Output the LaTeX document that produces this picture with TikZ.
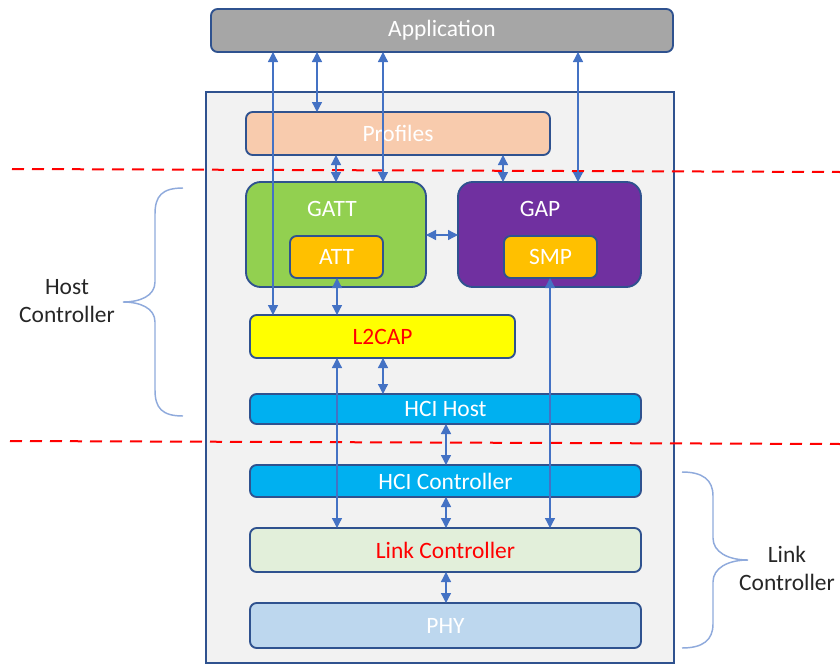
\documentclass[tikz,border=0pt]{standalone}
\usepackage{fontspec}
\setmainfont{Carlito}
\usetikzlibrary{arrows.meta}
\definecolor{bord}{HTML}{2F528F}
\definecolor{arrc}{HTML}{4472C4}
\definecolor{bracec}{HTML}{8FAADC}
\definecolor{appc}{HTML}{A6A6A6}
\definecolor{hostc}{HTML}{F2F2F2}
\definecolor{profc}{HTML}{F8CBAD}
\definecolor{gattc}{HTML}{92D050}
\definecolor{gapc}{HTML}{7030A0}
\definecolor{attc}{HTML}{FFC000}
\definecolor{l2c}{HTML}{FFFF00}
\definecolor{hcic}{HTML}{00B0F0}
\definecolor{linkc}{HTML}{E2EFDA}
\definecolor{phyc}{HTML}{BDD7EE}
\newcommand\lblfont{\fontsize{17.6}{21}\selectfont}
\newcommand\blk[7]{\node[#6, minimum width={(#4-#2)*0.75pt}, minimum height={(#5-#3)*0.75pt}] (#1) at ({(#2+#4)/2},{(#3+#5)/2}) {#7};}
\begin{document}
\begin{tikzpicture}[x=0.75pt,y=-0.75pt,
  box/.style={draw=bord, line width=1.4pt, rounded corners=5pt, inner sep=0pt, outer sep=0pt, font=\lblfont, text=white},
  bigbox/.style={box, rounded corners=11pt},
  outerbox/.style={draw=bord, line width=1.4pt, fill=hostc, inner sep=0pt, outer sep=0pt},
  arr/.style={draw=arrc, line width=1pt, {Triangle[length=7.5pt,width=7.5pt]}-{Triangle[length=7.5pt,width=7.5pt]}},
  reddash/.style={draw=red, line width=1.5pt, dash pattern=on 9pt off 6pt},
  bracestyle/.style={draw=bracec, line width=1.1pt},
  sidelbl/.style={font=\lblfont, text=black!85, align=center, inner sep=0pt}]
\useasboundingbox (0,0) rectangle (840,664);
% outer host box
\blk{host}{206}{92}{674}{663}{outerbox}{}
% blocks
\blk{app}{211}{9}{673}{52}{box, fill=appc}{Application}
\blk{prof}{246}{112}{550}{155}{box, fill=profc}{Profiles}
\blk{gatt}{246}{182}{426}{287}{bigbox, fill=gattc}{}
\blk{gap}{458}{182}{641}{287}{bigbox, fill=gapc}{}
\node[font=\lblfont, text=white, inner sep=0pt] (gattlbl) at (332,209) {GATT};
\node[font=\lblfont, text=white, inner sep=0pt] (gaplbl) at (540,209) {GAP};
\blk{att}{290}{236}{383}{278}{box, fill=attc}{ATT}
\blk{smp}{504}{236}{597}{278}{box, fill=attc}{SMP}
\blk{l2cap}{250}{315}{515}{358}{box, fill=l2c, text=red}{L2CAP}
\blk{hcih}{250}{394}{641}{424}{box, fill=hcic}{HCI Host}
\blk{hcic}{250}{465}{641}{497}{box, fill=hcic}{HCI Controller}
\blk{link}{250}{528}{641}{572}{box, fill=linkc, text=red}{Link Controller}
\blk{phy}{250}{603}{641}{648}{box, fill=phyc}{PHY}
% red dashed separators
\draw[reddash] (12,169) -- (840,172);
\draw[reddash] (10,441) -- (840,444);
% helper x positions
\coordinate (xa) at (273,0);
\coordinate (xb) at (317,0);
\coordinate (xc) at (383,0);
\coordinate (xd) at (578,0);
\coordinate (xe) at (336,0);
\coordinate (xf) at (503,0);
\coordinate (xg) at (337,0);
\coordinate (xh) at (550,0);
\coordinate (xi) at (446,0);
\coordinate (yg) at (0,235);
% connectors
\draw[arr] (app.south -| xa) -- (l2cap.north -| xa);
\draw[arr] (app.south -| xb) -- (prof.north -| xb);
\draw[arr] (app.south -| xc) -- (gatt.north -| xc);
\draw[arr] (app.south -| xd) -- (gap.north -| xd);
\draw[arr] (prof.south -| xe) -- (gatt.north -| xe);
\draw[arr] (prof.south -| xf) -- (gap.north -| xf);
\draw[arr] (gatt.east |- yg) -- (gap.west |- yg);
\draw[arr] (att.south -| xg) -- (l2cap.north -| xg);
\draw[arr] (l2cap.south -| xg) -- (link.north -| xg);
\draw[arr] (l2cap.south -| xc) -- (hcih.north -| xc);
\draw[arr] (smp.south -| xh) -- (link.north -| xh);
\draw[arr] (hcih.south -| xi) -- (hcic.north -| xi);
\draw[arr] (hcic.south -| xi) -- (link.north -| xi);
\draw[arr] (link.south -| xi) -- (phy.north -| xi);
% braces
\draw[bracestyle] (183,188) .. controls (162,188) and (155,196) .. (155,214)
  -- (155,282) .. controls (155,296) and (140,302) .. (123,302)
  .. controls (140,302) and (155,308) .. (155,322)
  -- (155,390) .. controls (155,408) and (162,416) .. (183,416);
\draw[bracestyle] (682,472) .. controls (703,472) and (713,480) .. (713,496)
  -- (713,538) .. controls (713,552) and (728,560) .. (748,560)
  .. controls (728,560) and (713,568) .. (713,582)
  -- (713,624) .. controls (713,640) and (703,648) .. (682,648);
\node[sidelbl] (hostlbl) at (67,301) {Host\\Controller};
\node[sidelbl] (linklbl) at (787,568) {Link\\Controller};
\end{tikzpicture}
\end{document}
